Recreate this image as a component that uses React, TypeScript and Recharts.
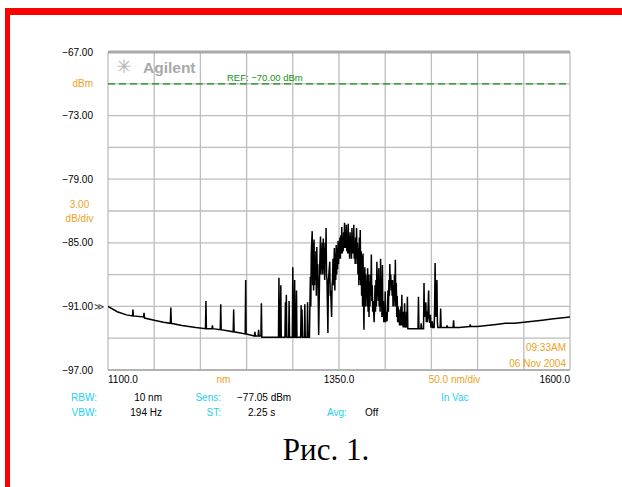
import React from "react";
import { LineChart, Line, XAxis, YAxis, CartesianGrid, ReferenceLine } from "recharts";

// Spectrum trace: [wavelength nm, power dBm]
const trace: [number, number][] = [
  [1100, -91.0], [1110, -91.5], [1120, -91.8],
  [1126.5, -91.9], [1127, -91.3], [1127.5, -91.9],
  [1138.5, -92.0], [1139, -91.6], [1139.5, -92.1],
  [1150, -92.3], [1160, -92.5],
  [1167.5, -92.6], [1168, -91.1], [1168.5, -92.6],
  [1180, -92.8], [1195, -93.0],
  [1205.5, -93.1], [1206, -90.5], [1206.5, -93.1],
  [1212.5, -93.1], [1213, -92.8], [1213.5, -93.1],
  [1221.5, -93.2], [1222, -90.8], [1222.5, -93.2],
  [1235.5, -93.4], [1236, -91.3], [1236.5, -93.4],
  [1248.5, -93.6], [1249, -88.5], [1249.5, -93.6],
  [1258.5, -93.8], [1259, -93.4], [1259.5, -93.8],
  [1262.5, -93.8], [1263, -93.2], [1263.5, -93.8],
  [1265.5, -93.8], [1266, -90.7], [1266.5, -93.9],
  [1275, -93.9],
  [1284.5, -93.9], [1285, -88.3], [1285.5, -93.9], [1286.5, -93.9], [1287, -89.0], [1287.5, -93.9],
  [1291.5, -93.9], [1292, -90.6], [1292.5, -93.9], [1293, -89.9], [1293.5, -93.9],
  [1295.5, -93.9], [1296, -90.5], [1296.5, -93.9],
  [1299.5, -93.9], [1300, -87.3], [1300.5, -93.9], [1301.5, -93.9], [1302, -88.5], [1302.5, -93.9],
  [1303.5, -93.9], [1304, -89.5], [1304.5, -93.9],
  [1308.5, -93.9], [1309, -90.9], [1309.5, -93.9], [1310, -91.3], [1310.5, -93.9],
  [1312.5, -93.9], [1313, -90.8], [1313.5, -93.9],
  [1315.5, -93.9], [1316, -90.6], [1316.5, -93.9],
  [1318, -93.9], [1319, -88.2], [1319.5, -91.0], [1320, -86.0], [1321, -83.9], [1321.5, -89.0],
  [1322, -85.0], [1322.5, -89.5], [1323, -84.7], [1323.5, -89.0], [1324, -86.5], [1324.5, -88.5],
  [1325, -85.8], [1325.5, -90.0], [1326, -85.4], [1326.5, -89.0], [1327, -87.0], [1327.5, -90.0],
  [1328, -93.7], [1329, -88.0], [1329.5, -86.0], [1330, -84.4], [1330.5, -88.0], [1331, -85.5],
  [1331.5, -87.5], [1332, -85.0], [1332.5, -88.0], [1333, -84.6], [1333.5, -87.5], [1334, -85.5],
  [1334.5, -88.5], [1335, -85.0], [1335.5, -87.0], [1336, -83.6], [1336.5, -88.0], [1337, -88.5],
  [1338, -93.5], [1338.5, -89.0], [1339, -88.0], [1340, -86.8], [1340.5, -90.0], [1341, -89.5],
  [1342, -92.0], [1342.5, -89.0], [1343, -88.5], [1343.5, -86.5], [1344, -89.0], [1344.5, -87.0],
  [1345, -85.5], [1345.5, -89.5], [1346, -86.0], [1346.5, -88.5], [1347, -85.2], [1347.5, -88.0],
  [1348, -85.5], [1348.5, -87.5], [1349, -84.8], [1349.5, -87.0], [1350, -85.0], [1350.5, -86.5],
  [1351, -84.5], [1351.5, -86.5], [1352, -84.3], [1352.5, -86.0], [1353, -83.5], [1353.5, -86.0],
  [1354, -84.5], [1354.5, -85.8], [1355, -84.0], [1355.5, -85.5], [1356, -83.1], [1356.5, -85.5],
  [1357, -84.0], [1357.5, -85.5], [1358, -83.3], [1358.5, -85.8], [1359, -84.2], [1359.5, -86.0],
  [1360, -83.2], [1360.5, -86.0], [1361, -84.5], [1361.5, -86.5], [1362, -84.0], [1362.5, -85.5],
  [1363, -84.8], [1363.5, -86.5], [1364, -83.6], [1364.5, -86.0], [1365, -84.5], [1365.5, -86.0],
  [1366, -83.3], [1366.5, -86.5], [1367, -84.8], [1367.5, -87.0], [1368, -84.5], [1368.5, -86.5],
  [1369, -83.6], [1369.5, -87.0], [1370, -85.0], [1370.5, -88.0], [1371, -85.5], [1371.5, -89.0],
  [1372, -84.5], [1372.5, -88.5], [1373, -83.8], [1373.5, -89.0], [1374, -85.8], [1374.5, -90.0],
  [1375, -86.2], [1375.5, -91.0], [1376, -86.0], [1376.5, -90.0], [1377, -93.2], [1377.5, -89.0],
  [1378, -87.3], [1378.5, -91.0], [1379, -88.0], [1379.5, -90.0], [1380, -89.0], [1380.5, -91.0],
  [1381, -87.4], [1381.5, -91.5], [1382, -88.0], [1382.5, -92.0], [1383, -88.7], [1383.5, -91.0],
  [1384, -88.0], [1384.5, -90.0], [1385, -86.1], [1385.5, -90.5], [1386, -89.0], [1386.5, -91.5],
  [1387, -90.5], [1388, -92.5], [1388.5, -91.0], [1389, -89.0], [1389.5, -91.5], [1390, -88.5],
  [1390.5, -91.0], [1391, -86.8], [1391.5, -90.0], [1392, -88.5], [1392.5, -90.5], [1393, -87.4],
  [1393.5, -91.0], [1394, -88.5], [1394.5, -91.5], [1395, -86.5], [1395.5, -91.0], [1396, -89.0],
  [1396.5, -92.0], [1397, -87.1], [1397.5, -92.0], [1398, -90.5], [1398.5, -92.5], [1399, -91.0],
  [1399.5, -92.5], [1400, -89.6], [1400.5, -92.5], [1401, -91.5], [1402, -92.4], [1402.5, -91.0],
  [1403, -89.5], [1403.5, -91.5], [1404, -88.5], [1404.5, -90.0], [1405, -87.0], [1405.5, -89.0],
  [1406, -88.0], [1406.5, -89.5], [1407, -88.5], [1407.5, -90.0], [1408, -88.5], [1408.5, -91.0],
  [1409, -89.0], [1409.5, -91.0], [1410, -88.0], [1410.5, -90.5], [1411, -86.6], [1411.5, -91.0],
  [1412, -88.8], [1412.5, -92.0], [1413, -90.0], [1413.5, -92.5], [1414, -91.0], [1414.5, -92.5],
  [1415, -91.3], [1415.5, -92.8], [1416, -91.8], [1416.5, -92.8], [1417, -91.0], [1417.5, -92.8],
  [1418, -89.9], [1418.5, -92.8], [1419, -91.5], [1419.5, -93.0], [1420, -91.5], [1420.5, -93.0],
  [1421, -90.7], [1421.5, -93.0], [1422, -92.0], [1422.5, -93.0], [1423, -91.5], [1423.5, -93.0],
  [1424, -90.1], [1424.5, -93.1],
  [1426, -93.1], [1435, -93.1], [1435.5, -93.1], [1436, -90.1], [1436.5, -93.1],
  [1438.5, -93.1], [1439, -92.6], [1439.5, -93.1],
  [1441.5, -93.1], [1442, -88.8], [1442.5, -92.0], [1443, -91.5], [1443.5, -92.0], [1444, -90.6],
  [1444.5, -92.5], [1445, -91.5], [1445.5, -92.5], [1446, -92.0], [1446.5, -91.0], [1447, -89.5],
  [1447.5, -92.0], [1448, -92.5], [1448.5, -92.5], [1449, -91.8], [1449.5, -93.0], [1450, -92.8],
  [1450.5, -93.0], [1451, -92.4], [1451.5, -93.0], [1453, -93.0], [1453.5, -91.0], [1454, -86.9],
  [1454.5, -90.0], [1455, -92.0], [1455.5, -91.0], [1456, -88.5], [1456.5, -92.5], [1457, -93.0],
  [1459.5, -93.0], [1460, -91.2], [1460.5, -93.0],
  [1466.5, -93.0], [1467, -92.8], [1467.5, -93.0],
  [1473.5, -93.0], [1474, -92.3], [1474.5, -93.0],
  [1480, -93.0],
  [1491.5, -92.9], [1492, -92.7], [1492.5, -92.9],
  [1500, -92.9], [1510, -92.8], [1520, -92.7], [1530, -92.6], [1540, -92.6], [1550, -92.5],
  [1560, -92.4], [1570, -92.3], [1580, -92.2], [1590, -92.1], [1600, -92.0],
];

const xGridValues = [1100, 1150, 1200, 1250, 1300, 1350, 1400, 1450, 1500, 1550, 1600];
const xLabelTicks = [1100, 1225, 1350, 1475, 1600];
const yTicks = [-97, -94, -91, -88, -85, -82, -79, -76, -73, -70, -67];
const yLabeled = [-67, -73, -79, -85, -91, -97];
const refLevel = -70;

const data = trace.map(([nm, p]) => ({ nm, p }));

const FONT = "'Liberation Sans', Arial, sans-serif";
const ORANGE = "#eba21e";
const CYAN = "#22d0f2";
const GRID = "#bdbdbd";
const GREEN = "#139013";

const fmt = (v: number) => v.toFixed(2).replace("-", "\u2212");

const YTick = (props: any) => {
  const { x, y, payload } = props;
  const v = payload.value;
  if (yLabeled.includes(v)) {
    return (
      <g>
        <text x={x} y={y} dy={3.6} textAnchor="end" fontSize={10} fontFamily={FONT} fill="#000">
          {fmt(v)}
        </text>
        {v === -91 && (
          <text x={x + 1} y={y} dy={3.6} fontSize={10} fontFamily={FONT} fill="#333">
            ≫
          </text>
        )}
      </g>
    );
  }
  if (v === -70) {
    return (
      <text x={x} y={y} dy={3.6} textAnchor="end" fontSize={10} fontFamily={FONT} fill={ORANGE}>
        dBm
      </text>
    );
  }
  if (v === -82) {
    return (
      <g>
        <text x={x - 13.5} y={y - 7} dy={3.6} textAnchor="middle" fontSize={10} fontFamily={FONT} fill={ORANGE}>
          3.00
        </text>
        <text x={x - 13.5} y={y + 7} dy={3.6} textAnchor="middle" fontSize={10} fontFamily={FONT} fill={ORANGE}>
          dB/div
        </text>
      </g>
    );
  }
  return <g />;
};

const XTick = (props: any) => {
  const { x, y, payload } = props;
  const v = payload.value;
  let label = "";
  let anchor: "start" | "middle" | "end" = "middle";
  let fill = "#000";
  if (v === 1100) { label = "1100.0"; anchor = "start"; }
  else if (v === 1350) { label = "1350.0"; }
  else if (v === 1600) { label = "1600.0"; anchor = "end"; }
  else if (v === 1225) { label = "nm"; fill = ORANGE; }
  else if (v === 1475) { label = "50.0 nm/div"; fill = ORANGE; }
  return (
    <text x={x} y={y} dy={12.5} textAnchor={anchor} fontSize={10} fontFamily={FONT} fill={fill}>
      {label}
    </text>
  );
};

export default function App() {
  const t = (x: number, y: number, s: string, fill: string, anchor: "start" | "middle" | "end" = "start", size = 10) => (
    <text x={x} y={y} textAnchor={anchor} fontSize={size} fontFamily={FONT} fill={fill}>
      {s}
    </text>
  );
  return (
    <div style={{ position: "absolute", left: 0, top: 0, width: 622, height: 487, background: "#fff" }}>
      <LineChart
        width={622}
        height={487}
        data={data}
        margin={{ top: 52, right: 52, bottom: 0, left: 0 }}
      >
        <CartesianGrid vertical={false} stroke={GRID} strokeWidth={1.3} />
        {xGridValues.map((v) => (
          <ReferenceLine key={v} x={v} stroke={GRID} strokeWidth={1.3} ifOverflow="extendDomain" />
        ))}
        <ReferenceLine y={-67} stroke="#a9a9a9" strokeWidth={3} />
        <ReferenceLine y={-97} stroke="#a9a9a9" strokeWidth={1.5} />
        <ReferenceLine y={refLevel} stroke={GREEN} strokeWidth={1.2} strokeDasharray="7 4" />
        <XAxis
          dataKey="nm"
          type="number"
          domain={[1100, 1600]}
          ticks={xLabelTicks}
          interval={0}
          axisLine={false}
          tickLine={false}
          tickSize={0}
          tickMargin={0}
          height={117}
          tick={<XTick />}
          allowDataOverflow
        />
        <YAxis
          type="number"
          domain={[-97, -67]}
          ticks={yTicks}
          interval={0}
          axisLine={false}
          tickLine={false}
          tickSize={0}
          tickMargin={15}
          width={108}
          tick={<YTick />}
          allowDataOverflow
        />
        <Line
          dataKey="p"
          type="linear"
          stroke="#000"
          strokeWidth={1.5}
          dot={false}
          isAnimationActive={false}
        />
      </LineChart>
      <svg
        width={622}
        height={487}
        style={{ position: "absolute", left: 0, top: 0, pointerEvents: "none" }}
      >
        <rect x={5} y={8} width={617} height={7} fill="#ff0000" />
        <rect x={5} y={8} width={5} height={479} fill="#ff0000" />
        <text x={124} y={73} textAnchor="middle" fontSize={19} fontFamily="'DejaVu Sans', sans-serif" fill="#b5b5b5">
          ✳
        </text>
        <text x={143} y={72.5} fontSize={15.5} fontWeight="bold" fontFamily={FONT} fill="#a9a9a9">
          Agilent
        </text>
        {t(227, 80.5, "REF: \u221270.00 dBm", GREEN, "start", 9.5)}
        {t(566, 351, "09:33AM", ORANGE, "end")}
        {t(566, 367, "06 Nov 2004", ORANGE, "end")}
        {t(97, 400.5, "RBW:", CYAN, "end")}
        {t(162, 400.5, "10 nm", "#000", "end")}
        {t(221, 400.5, "Sens:", CYAN, "end")}
        {t(237, 400.5, "\u221277.05 dBm", "#000")}
        {t(441, 400.5, "In Vac", CYAN)}
        {t(97, 415.5, "VBW:", CYAN, "end")}
        {t(162, 415.5, "194 Hz", "#000", "end")}
        {t(221, 415.5, "ST:", CYAN, "end")}
        {t(248, 415.5, "2.25 s", "#000")}
        {t(327, 415.5, "Avg:", CYAN)}
        {t(365, 415.5, "Off", "#000")}
        <text x={326} y={460} textAnchor="middle" fontSize={31} fontFamily="'Liberation Serif', 'Times New Roman', serif" fill="#000">
          Рис. 1.
        </text>
      </svg>
    </div>
  );
}
